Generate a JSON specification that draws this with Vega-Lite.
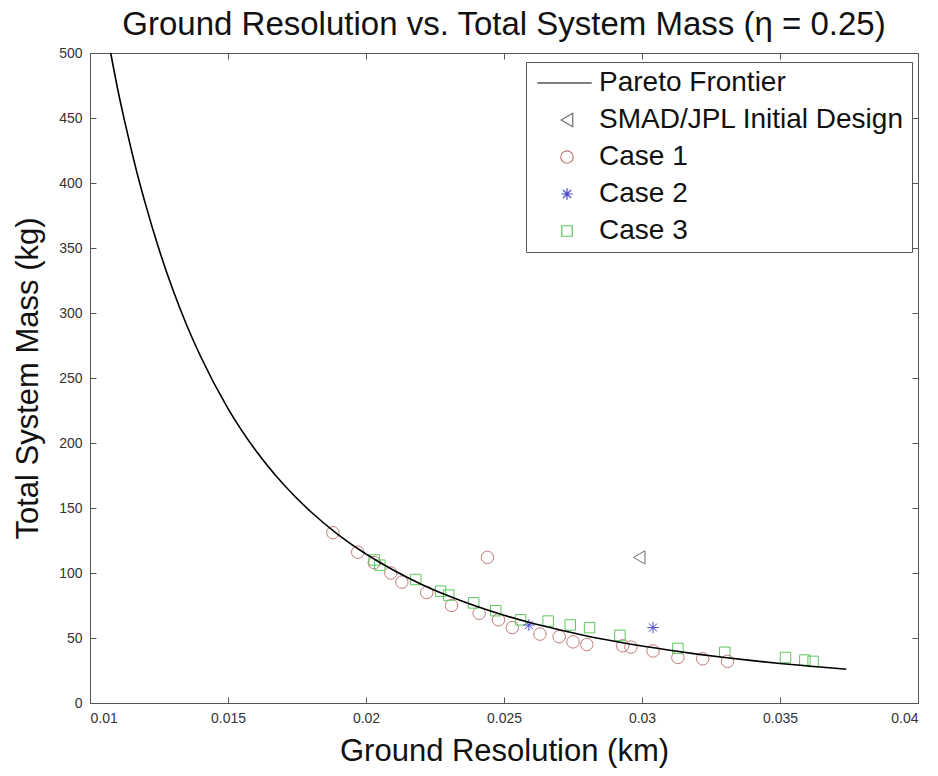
{
  "$schema": "https://vega.github.io/schema/vega-lite/v6.json",
  "width": 828,
  "height": 650,
  "autosize": {"type": "none"},
  "padding": {"left": 90, "top": 53, "right": 20, "bottom": 73},
  "background": "white",
  "title": {
    "text": "Ground Resolution vs. Total System Mass (η = 0.25)",
    "fontSize": 33,
    "font": "Liberation Sans",
    "fontWeight": "normal",
    "color": "#111",
    "anchor": "middle",
    "offset": 4
  },
  "config": {
    "view": {"stroke": "#555", "strokeWidth": 1},
    "axis": {
      "labelFont": "Liberation Sans",
      "labelFontSize": 14,
      "labelColor": "#333",
      "titleFont": "Liberation Sans",
      "titleFontSize": 31,
      "titleFontWeight": "normal",
      "titleColor": "#111",
      "grid": false,
      "domainColor": "#555",
      "tickColor": "#555",
      "tickSize": -6
    },
    "legend": {
      "orient": "none",
      "legendX": 436,
      "legendY": 9,
      "strokeColor": "#555",
      "fillColor": "white",
      "padding": 7,
      "labelFont": "Liberation Sans",
      "labelFontSize": 28,
      "labelColor": "#111",
      "labelLimit": 500,
      "symbolStrokeWidth": 1.2,
      "symbolOffset": 20,
      "labelOffset": 18,
      "rowPadding": 9
    }
  },
  "datasets": {
    "pareto": [
      {"x": 0.01075, "y": 500}, {"x": 0.0110, "y": 472.5}, {"x": 0.01125, "y": 448}, {"x": 0.0115, "y": 425.3},
      {"x": 0.01175, "y": 404}, {"x": 0.012, "y": 384.5}, {"x": 0.0125, "y": 349}, {"x": 0.013, "y": 318},
      {"x": 0.0135, "y": 290.8}, {"x": 0.014, "y": 266.9}, {"x": 0.015, "y": 226.5}, {"x": 0.016, "y": 194.4},
      {"x": 0.017, "y": 168.4}, {"x": 0.018, "y": 147.1}, {"x": 0.019, "y": 129.4}, {"x": 0.020, "y": 114.6},
      {"x": 0.021, "y": 102.1}, {"x": 0.022, "y": 91.4}, {"x": 0.023, "y": 82.3}, {"x": 0.024, "y": 74.4},
      {"x": 0.025, "y": 67.5}, {"x": 0.026, "y": 61.5}, {"x": 0.027, "y": 56.3}, {"x": 0.028, "y": 51.6},
      {"x": 0.029, "y": 47.5}, {"x": 0.030, "y": 43.8}, {"x": 0.031, "y": 40.6}, {"x": 0.032, "y": 37.6},
      {"x": 0.033, "y": 35.0}, {"x": 0.034, "y": 32.6}, {"x": 0.035, "y": 30.4}, {"x": 0.036, "y": 28.5},
      {"x": 0.037, "y": 26.7}, {"x": 0.0374, "y": 26.0}
    ],
    "points": [
      {"s": "Case 1", "x": 0.0188, "y": 131}, {"s": "Case 1", "x": 0.0197, "y": 116},
      {"s": "Case 1", "x": 0.0203, "y": 108}, {"s": "Case 1", "x": 0.0209, "y": 100},
      {"s": "Case 1", "x": 0.0213, "y": 93}, {"s": "Case 1", "x": 0.0222, "y": 85},
      {"s": "Case 1", "x": 0.0231, "y": 75}, {"s": "Case 1", "x": 0.0241, "y": 69},
      {"s": "Case 1", "x": 0.0248, "y": 64}, {"s": "Case 1", "x": 0.0253, "y": 58},
      {"s": "Case 1", "x": 0.0263, "y": 53}, {"s": "Case 1", "x": 0.0270, "y": 51},
      {"s": "Case 1", "x": 0.0275, "y": 47}, {"s": "Case 1", "x": 0.0280, "y": 45},
      {"s": "Case 1", "x": 0.0293, "y": 44}, {"s": "Case 1", "x": 0.0296, "y": 43},
      {"s": "Case 1", "x": 0.0304, "y": 40}, {"s": "Case 1", "x": 0.0313, "y": 35},
      {"s": "Case 1", "x": 0.0322, "y": 34}, {"s": "Case 1", "x": 0.0331, "y": 32},
      {"s": "Case 1", "x": 0.0244, "y": 112},
      {"s": "Case 3", "x": 0.0203, "y": 110}, {"s": "Case 3", "x": 0.0205, "y": 106},
      {"s": "Case 3", "x": 0.0218, "y": 95}, {"s": "Case 3", "x": 0.0227, "y": 86},
      {"s": "Case 3", "x": 0.0230, "y": 83}, {"s": "Case 3", "x": 0.0239, "y": 77},
      {"s": "Case 3", "x": 0.0247, "y": 71}, {"s": "Case 3", "x": 0.0256, "y": 64},
      {"s": "Case 3", "x": 0.0266, "y": 63}, {"s": "Case 3", "x": 0.0274, "y": 60},
      {"s": "Case 3", "x": 0.0281, "y": 58}, {"s": "Case 3", "x": 0.0292, "y": 52},
      {"s": "Case 3", "x": 0.0313, "y": 42}, {"s": "Case 3", "x": 0.0330, "y": 39},
      {"s": "Case 3", "x": 0.0352, "y": 35}, {"s": "Case 3", "x": 0.0359, "y": 33},
      {"s": "Case 3", "x": 0.0362, "y": 32},
      {"s": "Case 2", "x": 0.0259, "y": 60}, {"s": "Case 2", "x": 0.0304, "y": 58},
      {"s": "SMAD/JPL Initial Design", "x": 0.0299, "y": 112}
    ]
  },
  "layer": [
    {
      "data": {"name": "points"},
      "mark": {"type": "point", "filled": false, "strokeWidth": 1, "opacity": 1},
      "encoding": {
        "x": {"field": "x", "type": "quantitative",
              "scale": {"domain": [0.01, 0.04], "nice": false, "zero": false},
              "axis": {"orient": "top", "labels": false, "title": null, "domain": false,
                       "values": [0.01, 0.015, 0.02, 0.025, 0.03, 0.035, 0.04]}},
        "y": {"field": "y", "type": "quantitative",
              "scale": {"domain": [0, 500], "nice": false},
              "axis": {"orient": "right", "labels": false, "title": null, "domain": false,
                       "values": [0, 50, 100, 150, 200, 250, 300, 350, 400, 450, 500]}},
        "color": {"field": "s", "type": "nominal",
                  "scale": {"domain": ["Pareto Frontier", "SMAD/JPL Initial Design", "Case 1", "Case 2", "Case 3"],
                            "range": ["#000000", "#6e6e6e", "#c07c7c", "#4848cc", "#5cc85c"]},
                  "legend": {"title": null}},
        "shape": {"field": "s", "type": "nominal",
                  "scale": {"domain": ["Pareto Frontier", "SMAD/JPL Initial Design", "Case 1", "Case 2", "Case 3"],
                            "range": ["M-4.2,0L3.5,0", "triangle-left", "circle", "M-1,0L1,0M0,-1L0,1M-0.7,-0.7L0.7,0.7M-0.7,0.7L0.7,-0.7", "square"]},
                  "legend": {"title": null}},
        "size": {"field": "s", "type": "nominal",
                 "scale": {"domain": ["Pareto Frontier", "SMAD/JPL Initial Design", "Case 1", "Case 2", "Case 3"],
                           "range": [200, 110, 300, 230, 160]},
                 "legend": {"title": null}}
      }
    },
    {
      "data": {"name": "pareto"},
      "mark": {"type": "line", "color": "#000", "strokeWidth": 1.6, "interpolate": "monotone"},
      "encoding": {
        "x": {"field": "x", "type": "quantitative",
              "scale": {"domain": [0.01, 0.04], "nice": false, "zero": false},
              "axis": {"orient": "bottom", "title": "Ground Resolution (km)", "format": ".3~f",
                       "values": [0.01, 0.015, 0.02, 0.025, 0.03, 0.035, 0.04],
                       "labelPadding": 14, "titlePadding": 11}},
        "y": {"field": "y", "type": "quantitative",
              "scale": {"domain": [0, 500], "nice": false},
              "axis": {"orient": "left", "title": "Total System Mass (kg)",
                       "values": [0, 50, 100, 150, 200, 250, 300, 350, 400, 450, 500],
                       "labelPadding": 14, "titlePadding": 14}}
      }
    }
  ],
  "resolve": {"axis": {"x": "independent", "y": "independent"}}
}
